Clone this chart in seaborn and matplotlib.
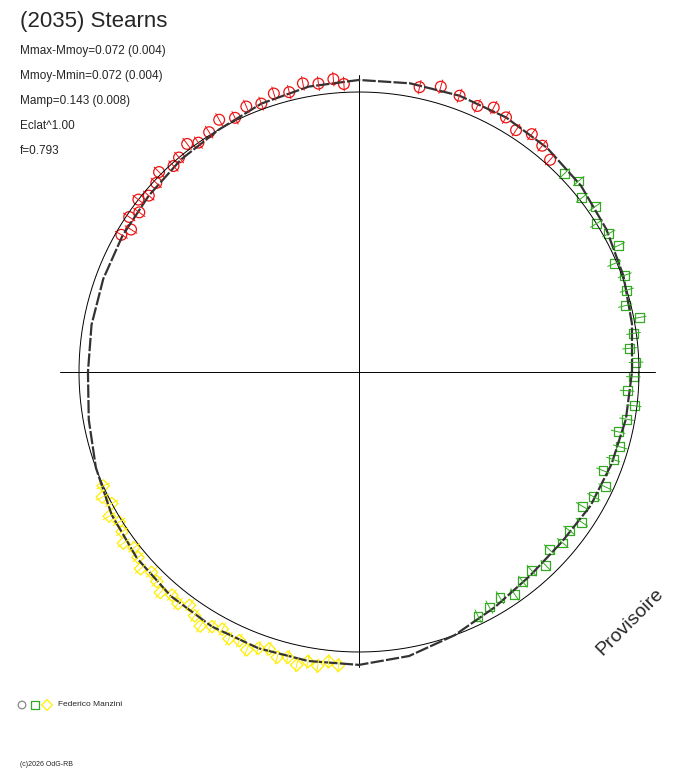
import numpy as np
import pandas as pd
import seaborn as sns
import matplotlib.pyplot as plt

sns.set_style("white")
plt.rcParams['font.family'] = ['Liberation Sans', 'DejaVu Sans']

# fitted curve (angle deg, radius relative to reference circle)
curve_ang = [0, 10, 20, 30, 40, 50, 60, 70, 80, 90, 100, 110, 120, 130, 140, 150, 160, 170, 180,
             190, 200, 210, 220, 230, 240, 250, 260, 270, 280, 290, 300, 310, 320, 330, 340, 350, 360]
curve_r = [0.975, 0.99, 1.005, 1.02, 1.035, 1.045, 1.05, 1.05, 1.047, 1.043, 1.035, 1.02, 1.0,
           0.99, 0.98, 0.975, 0.972, 0.97, 0.968, 0.98, 1.0, 1.02, 1.035, 1.045, 1.05, 1.05, 1.048,
           1.046, 1.03, 1.0, 0.97, 0.95, 0.945, 0.955, 0.96, 0.968, 0.975]

red_ang = [150, 148, 146, 144, 142, 140, 137, 135, 132, 130, 127, 125, 122, 119, 116, 113, 110, 107,
           104, 101, 98, 95, 93, 78, 74, 70, 66, 63, 60, 57, 54, 51, 48]
red_r = [0.98, 0.96, 0.99, 0.97, 1.0, 0.98, 0.99, 1.01, 0.99, 1.0, 1.02, 1.0, 1.01, 1.03, 1.01, 1.03,
         1.02, 1.04, 1.03, 1.05, 1.04, 1.05, 1.03, 1.04, 1.06, 1.05, 1.04, 1.06, 1.05, 1.03, 1.05, 1.04, 1.02]

green_ang = [44, 41, 38, 35, 32, 29, 26, 23, 20, 17, 14, 11, 8, 5, 2, -1, -4, -7, -10, -13, -16, -19,
             -22, -25, -28, -31, -34, -37, -40, -43, -46, -49, -52, -55, -58, -61, -64]
green_r = [1.02, 1.04, 1.01, 1.03, 1.0, 1.02, 1.03, 0.99, 1.01, 1.0, 0.98, 1.02, 0.99, 0.97, 0.99,
           0.98, 0.96, 0.99, 0.97, 0.95, 0.97, 0.96, 0.94, 0.97, 0.95, 0.93, 0.96, 0.94, 0.95, 0.93,
           0.96, 0.94, 0.95, 0.97, 0.95, 0.96, 0.97]

yellow_ang = [204, 206, 208, 210, 212, 214, 216, 218, 220, 222, 224, 226, 228, 230, 232, 234, 236,
              238, 240, 242, 244, 246, 248, 250, 252, 254, 256, 258, 260, 262, 264, 266]
yellow_r = [1.0, 1.02, 1.0, 1.03, 1.01, 1.02, 1.04, 1.02, 1.03, 1.05, 1.03, 1.04, 1.06, 1.04, 1.05,
            1.03, 1.05, 1.07, 1.05, 1.04, 1.06, 1.05, 1.07, 1.05, 1.04, 1.06, 1.05, 1.07, 1.05, 1.06,
            1.04, 1.05]

W, H, cx, cy, R = 688, 768, 359, 372, 280.0
fig = plt.figure(figsize=(W / 100, H / 100), dpi=100)
ax = fig.add_axes([0, 0, 1, 1])
ax.set_xlim(-cx / R, (W - cx) / R)
ax.set_ylim(-(H - cy) / R, cy / R)
ax.set_aspect('equal')
ax.axis('off')

# reference circle and axes
t = np.linspace(0, 2 * np.pi, 400)
ax.plot(np.cos(t), np.sin(t), color='black', lw=0.7)
ax.plot([(60 - cx) / R, (655 - cx) / R], [0, 0], color='black', lw=0.7)
ax.plot([0, 0], [(cy - 667) / R, (cy - 75) / R], color='black', lw=0.7)

# fitted curve
ca = np.radians(curve_ang)
cr = np.array(curve_r)
ax.plot(cr * np.cos(ca), cr * np.sin(ca), color='#333333', lw=1.6, ls=(0, (6, 1)))


def to_df(ang, r):
    a = np.radians(ang)
    r = np.array(r)
    return pd.DataFrame({'x': r * np.cos(a), 'y': r * np.sin(a), 'a': a})


for ang, r, col, mk, ms in [(red_ang, red_r, '#ee1111', 'o', 60),
                            (green_ang, green_r, '#33aa22', 's', 40),
                            (yellow_ang, yellow_r, '#ffee00', 'D', 40)]:
    d = to_df(ang, r)
    # small radial error bars
    for _, p in d.iterrows():
        ux, uy = np.cos(p.a), np.sin(p.a)
        ax.plot([p.x - 0.025 * ux, p.x + 0.025 * ux], [p.y - 0.025 * uy, p.y + 0.025 * uy],
                color=col, lw=0.7)
    sns.scatterplot(data=d, x='x', y='y', ax=ax, marker=mk, s=ms, facecolors='none',
                    edgecolor=col, linewidth=0.9, legend=False)

# text
fig.text(20 / W, 1 - 22 / H, '(2035) Stearns', fontsize=16, va='center')
for i, s in enumerate(['Mmax-Mmoy=0.072 (0.004)', 'Mmoy-Mmin=0.072 (0.004)',
                       'Mamp=0.143 (0.008)', 'Eclat^1.00', 'f=0.793']):
    fig.text(20 / W, 1 - (51 + 25 * i) / H, s, fontsize=8.5, va='center')
fig.text(630 / W, 1 - 622 / H, 'Provisoire', fontsize=14, rotation=45, ha='center', va='center')

# legend
for x, mk, col in [(22, 'o', '#888888'), (35, 's', '#33aa22'), (47, 'D', '#ffee00')]:
    ax.scatter([(x - cx) / R], [(cy - 705) / R], marker=mk, s=30, facecolors='none',
               edgecolors=col, linewidths=0.9)
fig.text(58 / W, 1 - 705 / H, 'Federico Manzini', fontsize=6, va='center')
fig.text(20 / W, 1 - 765 / H, '(c)2026 OdG-RB', fontsize=5, va='center')

fig.savefig('out.png', dpi=100)
